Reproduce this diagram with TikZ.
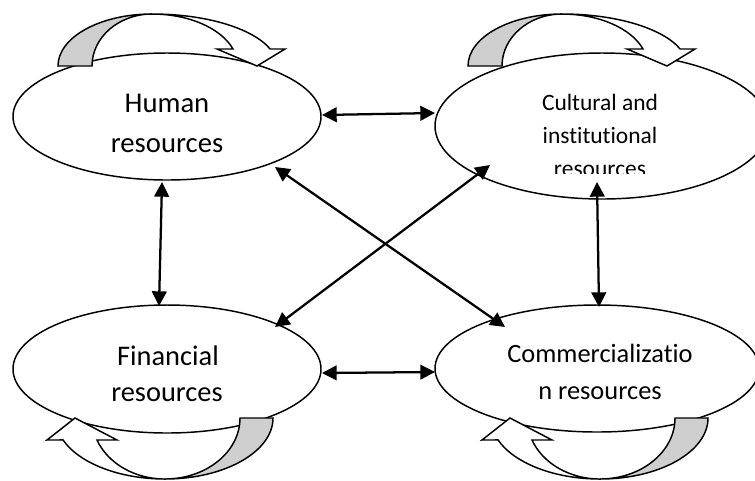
\documentclass[tikz,border=0pt]{standalone}
\usepackage{fontspec}
\setmainfont{Carlito}[Ligatures={NoCommon,NoContextual}]
\usetikzlibrary{shapes.geometric,arrows.meta}
\definecolor{ribbongray}{RGB}{207,207,207}
\begin{document}
\begin{tikzpicture}[x=0.75pt,y=-0.75pt,
  res/.style={draw, ellipse, line width=1.1pt, inner sep=0pt, outer sep=0pt},
  link/.style={line width=1.7pt, {Triangle[length=11pt,width=11pt]}-{Triangle[length=11pt,width=11pt]}},
  ribbon/.style={draw, line width=1.1pt, line join=miter},
  lbl/.style={anchor=base, inner sep=0pt, outer sep=0pt},
  topribbon/.pic={
    \path[ribbon, fill=ribbongray] (58,66) arc[start angle=180,end angle=270,x radius=94,y radius=52]
      arc[start angle=270,end angle=180,x radius=60,y radius=52] -- cycle;
    \path[ribbon, fill=white] (152,14) arc[start angle=270,end angle=340.9,x radius=125,y radius=52]
      -- (285,49) -- (257,66) -- (217,49) -- (233,49)
      arc[start angle=340.9,end angle=270,x radius=85.7,y radius=52] -- cycle;
  },
  botribbon/.pic={
    \path[ribbon, fill=ribbongray] (273,418) arc[start angle=0,end angle=90,x radius=108,y radius=61]
      arc[start angle=90,end angle=0,x radius=75,y radius=61] -- cycle;
    \path[ribbon, fill=white] (165,479) arc[start angle=90,end angle=158.9,x radius=109.3,y radius=61]
      -- (47,440) -- (75,418) -- (117,440) -- (97,440)
      arc[start angle=158.9,end angle=90,x radius=72.9,y radius=61] -- cycle;
  }
]
\useasboundingbox (0,0) rectangle (755,480);
\clip (0,0) rectangle (755,480);

% ellipses
\node[res, minimum width=231pt, minimum height=95.25pt] (hum) at (167,116.5) {};
\node[res, minimum width=250.5pt, minimum height=109.5pt] (cul) at (602,126) {};
\node[res, minimum width=231pt, minimum height=96pt] (fin) at (167,369) {};
\node[res, minimum width=243pt, minimum height=95.25pt] (com) at (597,368.5) {};

% ribbons (self-loops)
\pic at (0,0) {topribbon};
\pic at (410,0) {topribbon};
\pic at (0,0) {botribbon};
\pic at (435,0) {botribbon};

% labels
\node[lbl, font=\fontsize{21.5pt}{30pt}\selectfont] (humA) at (167,112) {Human};
\node[lbl, font=\fontsize{21.5pt}{30pt}\selectfont] (humB) at (167,152) {resources};
\begin{scope}
  \clip (430,0) rectangle (755,173);
  \node[lbl, font=\fontsize{17.6pt}{24pt}\selectfont] (culA) at (600,110) {Cultural and};
  \node[lbl, font=\fontsize{17.6pt}{24pt}\selectfont] (culB) at (600,143) {institutional};
  \node[lbl, font=\fontsize{17.6pt}{24pt}\selectfont] (culC) at (600,176) {resources};
\end{scope}
\begin{scope}
  \clip (0,300) rectangle (330,403);
  \node[lbl, font=\fontsize{21.3pt}{28pt}\selectfont] (finA) at (168,365) {Financial};
  \node[lbl, font=\fontsize{21.3pt}{28pt}\selectfont] (finB) at (167,401) {resources};
\end{scope}
\node[lbl, font=\fontsize{19.8pt}{27pt}\selectfont] (comA) at (600,362) {Commercializatio};
\node[lbl, font=\fontsize{19.8pt}{27pt}\selectfont] (comB) at (600,399) {n resources};

% connectors
\draw[link] ([shift={(155,-1.5)}]hum.center) -- ([shift={(-167,-13)}]cul.center);
\draw[link] ([shift={(155,4)}]fin.center) -- ([shift={(-162,3.5)}]com.center);
\draw[link] ([shift={(-5,65.5)}]hum.center) -- ([shift={(-8,-63)}]fin.center);
\draw[link] ([shift={(-5,56)}]cul.center) -- ([shift={(2,-61.5)}]com.center);
\draw[link] ([shift={(108,50.5)}]hum.center) -- ([shift={(-92,-41.5)}]com.center);
\draw[link] ([shift={(-112,39)}]cul.center) -- ([shift={(108,-42)}]fin.center);
\end{tikzpicture}
\end{document}
